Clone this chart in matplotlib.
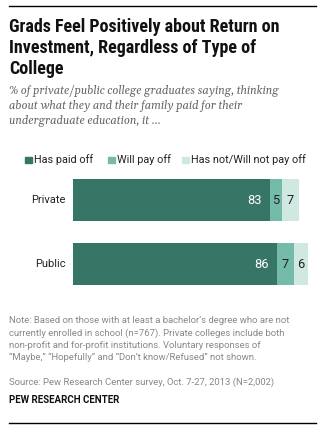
import matplotlib.pyplot as plt

# data
groups = ["Private", "Public"]
paid_off = [83, 86]
will_pay = [5, 7]
not_pay = [7, 6]
series_names = ["Has paid off", "Will pay off", "Has not/Will not pay off"]
colors = ["#377667", "#75bbaa", "#cfe8e2"]

W, H = 330, 433
fig = plt.figure(figsize=(W / 100, H / 100), dpi=100)

def fx(px):
    return px / W

def fy(py):
    return 1 - py / H

sans = ["Roboto", "DejaVu Sans"]
cond = ["Roboto Condensed", "DejaVu Sans"]
serif = ["Gelasio", "DejaVu Serif"]

# rules top / bottom
fig.add_artist(plt.Line2D([fx(9), fx(316)], [fy(6), fy(6)], color="black", lw=1))
fig.add_artist(plt.Line2D([fx(9), fx(316)], [fy(423), fy(423)], color="black", lw=1))

title = "Grads Feel Positively about Return on\nInvestment, Regardless of Type of\nCollege"
fig.text(fx(9), fy(18), title, fontsize=13, fontweight="bold", family=cond,
         va="top", ha="left", linespacing=1.2, color="#111111")

sub = ("% of private/public college graduates saying, thinking\n"
       "about what they and their family paid for their\n"
       "undergraduate education, it ...")
fig.text(fx(9), fy(85), sub, fontsize=8.0, style="italic", family=serif,
         va="top", ha="left", linespacing=1.33, color="#666666")

# legend
leg_x = [25, 108, 182]
for x, name, c in zip(leg_x, series_names, colors):
    fig.add_artist(plt.Rectangle((fx(x), fy(163)), fx(6.5), 6.5 / H, color=c,
                                 transform=fig.transFigure))
    fig.text(fx(x + 9), fy(159.5), name, fontsize=7.8, family=sans, va="center",
             ha="left", color="#222222")

# bars
ax = fig.add_axes([fx(73), fy(296), fx(237.4), 128 / H])
ypos = [0, 1]
left = [0, 0]
for vals, c, tc in zip([paid_off, will_pay, not_pay], colors, ["white", "#222222", "#222222"]):
    ax.barh(ypos, vals, left=left, height=42 / 64, color=c)
    for y, l, v in zip(ypos, left, vals):
        if c == colors[0]:
            ax.text(l + v - 3.5, y, str(v), ha="right", va="center", color=tc,
                    fontsize=9.3, family=sans)
        else:
            ax.text(l + v / 2, y, str(v), ha="center", va="center", color=tc,
                    fontsize=9.3, family=sans)
    left = [a + b for a, b in zip(left, vals)]
ax.set_xlim(0, 100)
ax.set_ylim(1.5, -0.5)
ax.axis("off")
for y, g in zip(ypos, groups):
    ax.text(-3, y, g, ha="right", va="center", fontsize=8, family=sans, color="#222222")

note = ("Note: Based on those with at least a bachelor\u2019s degree who are not\n"
        "currently enrolled in school (n=767). Private colleges include both\n"
        "non-profit and for-profit institutions. Voluntary responses of\n"
        "\u201cMaybe,\u201d \u201cHopefully\u201d and \u201cDon\u2019t know/Refused\u201d not shown.")
fig.text(fx(9), fy(316), note, fontsize=6.8, family=sans, va="top", ha="left",
         linespacing=1.43, color="#888888")
fig.text(fx(9), fy(382), "Source: Pew Research Center survey, Oct. 7-27, 2013 (N=2,002)",
         fontsize=6.8, family=sans, va="center", ha="left", color="#888888")
fig.text(fx(9), fy(400), "PEW RESEARCH CENTER", fontsize=7, fontweight="bold",
         family=sans, va="center", ha="left", color="#111111")

fig.savefig("out.png", dpi=100)
